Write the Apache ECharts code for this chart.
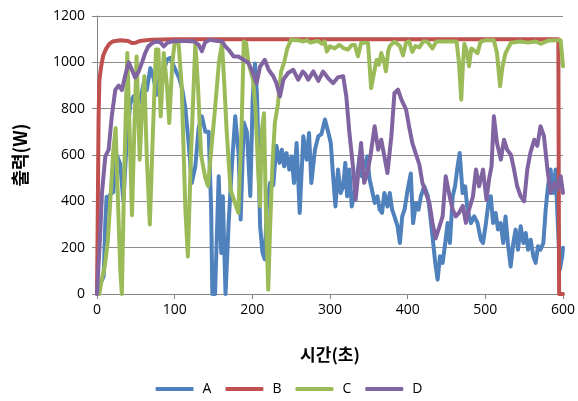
<!DOCTYPE html>
<html>
<head>
<meta charset="utf-8">
<script src="https://cdn.jsdelivr.net/npm/echarts@6/dist/echarts.min.js"></script>
<style>
  html, body { margin: 0; padding: 0; background: #fff; }
  #map { width: 578px; height: 401px; }
</style>
</head>
<body>
<div id="map"></div>
<script>
// 시간(초)와 출력(W)
let tA = [2, 5, 8.6, 10.7, 12.4, 14, 17, 21, 23, 26, 30, 34, 38.6, 43, 47, 51, 56, 60, 64, 68.7, 73, 77, 81.5, 86, 90, 94, 98, 102, 106, 110, 113.8, 118, 122, 126.6, 131, 135, 139.5, 143.8, 147, 148.5, 152, 156.7, 160, 162, 165.5, 169.5, 173.8, 178, 182.4, 185, 189, 193, 197.4, 200.4, 203.4, 206, 210, 213, 216, 219, 223, 227, 231, 235, 238, 241, 244, 247.6, 250.6, 253.6, 257, 261, 265.6, 270, 273, 276, 280.6, 285, 289, 293.5, 298, 301, 304, 307, 310.3, 313.7, 317, 319.7, 322, 325, 328, 331.7, 335, 338, 341, 344.6, 348, 351, 354, 357.5, 361, 364, 367, 370, 374, 377, 380, 383, 387, 390, 393, 396, 400, 404, 407, 410.7, 414, 417, 421.4, 426, 428.7, 432, 435.5, 438.6, 441.6, 445, 448.4, 451.4, 454.4, 458, 461, 464.3, 467, 470.7, 474, 477, 481.5, 485.7, 490, 494.3, 497, 500.8, 504, 507, 510, 513.3, 516.3, 519.8, 523, 526, 529, 532.6, 536, 539, 542, 545.5, 549, 552, 555, 558.4, 561.8, 564.8, 567.8, 571, 574.7, 577.7, 580.7, 584, 587.5, 590.5, 593.5, 596, 599, 600];
let vA = [20, 50, 76, 306, 420, 400, 430, 440, 522, 595, 560, 400, 680, 824, 853, 810, 839, 910, 880, 975, 930, 860, 960, 960, 1012, 1019, 990, 960, 930, 880, 800, 652, 479, 551, 720, 767, 700, 700, 364, 0, 0, 508, 177, 422, 0, 306, 560, 767, 600, 322, 740, 700, 423, 839, 995, 860, 294, 180, 150, 400, 480, 470, 640, 566, 623, 551, 608, 537, 594, 479, 652, 350, 681, 580, 695, 479, 623, 681, 690, 753, 695, 652, 508, 378, 537, 436, 465, 566, 422, 537, 378, 436, 508, 594, 508, 551, 594, 494, 450, 393, 422, 364, 350, 436, 378, 436, 364, 335, 292, 220, 335, 364, 450, 520, 306, 393, 364, 422, 465, 422, 350, 249, 134, 62, 163, 134, 220, 306, 220, 422, 465, 551, 609, 436, 465, 364, 306, 335, 306, 234, 220, 306, 393, 422, 306, 350, 278, 306, 220, 335, 220, 119, 220, 278, 191, 292, 220, 263, 191, 234, 163, 134, 206, 191, 220, 364, 465, 537, 436, 537, 292, 105, 163, 200];

let tB = [0, 1, 2, 3, 5, 8, 12, 16, 20, 30, 40, 45, 50, 55, 70, 100, 150, 200, 300, 400, 500, 594, 595, 600];
let vB = [0, 350, 750, 920, 975, 1030, 1060, 1080, 1090, 1095, 1092, 1083, 1085, 1092, 1098, 1100, 1100, 1100, 1100, 1100, 1100, 1100, 0, 0];

let tC = [3, 6, 10, 14, 18, 21, 24, 27, 30, 32, 35, 39, 42, 45, 48, 51, 55, 58, 61, 64, 68, 72, 76, 79, 82, 86, 90, 93, 97, 100, 105, 109, 113.8, 117, 121, 126.6, 130, 134, 139.5, 143, 147, 152, 157, 161, 164, 167, 172, 177, 182, 186, 189, 192, 195, 198, 201, 204, 208, 210, 212, 215, 218, 220.5, 223, 226, 229, 233, 237, 241, 245, 250, 255, 260, 265, 270, 275, 280, 285, 290, 293, 296, 300, 306, 312, 318, 323, 328, 332, 336, 340, 345, 349, 353, 357, 360, 363, 366, 370, 372, 375, 377, 383, 390, 394, 398, 402, 406, 410, 415, 420, 425, 432, 437, 445, 455, 463, 466, 469, 471, 473, 476, 479, 482, 486, 490, 494, 500, 511, 515, 519, 522, 526, 533, 545, 555, 565, 571, 580, 590, 597, 600];
let vC = [0, 60, 120, 230, 450, 620, 716, 400, 100, 0, 500, 1040, 700, 340, 700, 1025, 580, 800, 940, 600, 300, 700, 1055, 1055, 767, 1040, 900, 738, 1000, 1083, 1083, 900, 364, 162, 600, 1083, 900, 600, 500, 466, 620, 800, 1000, 1083, 900, 700, 450, 400, 350, 700, 1090, 1083, 997, 960, 925, 800, 500, 380, 700, 780, 280, 19, 300, 566, 738, 820, 960, 1000, 1060, 1098, 1095, 1095, 1090, 1095, 1085, 1090, 1092, 1080, 1090, 1047, 1069, 1060, 1075, 1060, 1055, 1075, 1075, 1026, 1083, 1085, 1083, 889, 960, 1010, 990, 1040, 1000, 961, 1050, 1070, 1090, 1070, 1030, 1085, 1090, 1045, 1070, 1065, 1090, 1090, 1060, 1090, 1090, 1090, 1090, 1000, 839, 980, 1080, 1050, 983, 1060, 1050, 1040, 1090, 1095, 1095, 1040, 897, 980, 1040, 1085, 1090, 1085, 1090, 1080, 1093, 1095, 1095, 983];

let tD = [0, 2, 4, 6.4, 10.7, 15, 19, 23.6, 28, 32, 36.5, 40.8, 45, 49, 53.6, 58, 62, 66, 71, 77, 82, 86, 91, 96, 105, 115, 125, 131, 135, 139, 145, 155, 161, 165, 169.5, 176, 182, 189, 195, 199, 201, 205.5, 210, 216, 221, 227, 231, 235.6, 240, 246, 252.7, 259, 265, 268, 272, 278.5, 285, 291, 298, 304, 310, 317, 321, 325, 330, 333, 336, 340, 344, 348, 352, 357.5, 362, 366, 370, 374, 379, 383, 387.5, 392, 398, 402, 406, 411, 415, 419, 424, 428, 432, 436, 441, 445, 449, 454, 458, 462, 466, 471, 475, 479, 484, 488, 492, 497, 501.5, 505, 508, 511, 515, 520, 524, 528, 533, 537, 541, 545.5, 550, 554, 558, 563, 567, 571, 575.5, 580, 584, 588.4, 593, 597, 600];
let vD = [0, 4, 250, 436, 594, 623, 767, 882, 900, 880, 945, 1000, 968, 935, 960, 1000, 1040, 1069, 1083, 1090, 1085, 1069, 1085, 1090, 1092, 1092, 1090, 1075, 1048, 1085, 1097, 1092, 1090, 1070, 1054, 1025, 1025, 1010, 997, 968, 960, 910, 982, 1011, 968, 940, 910, 853, 925, 954, 968, 925, 960, 950, 925, 961, 920, 960, 930, 910, 935, 940, 853, 695, 537, 407, 508, 652, 480, 522, 594, 724, 623, 666, 594, 522, 681, 868, 882, 839, 796, 720, 652, 600, 560, 480, 430, 393, 307, 240, 292, 335, 508, 422, 364, 335, 350, 380, 307, 364, 420, 537, 465, 537, 407, 500, 551, 767, 652, 580, 666, 623, 600, 537, 465, 422, 400, 537, 609, 666, 640, 724, 681, 537, 436, 479, 450, 508, 436];

let names = ['A', 'B', 'C', 'D'];
let colors = ['#4F81BD', '#C0504D', '#9BBB59', '#8064A2'];
let xTicks = [0, 100, 200, 300, 400, 500, 600];
let yTicks = [0, 200, 400, 600, 800, 1000, 1200];

function pairs(t, v){
    return t.map((x, i) => [x, v[i]]);
}

let myChart = echarts.init(document.getElementById('map'));
let font = '"Open Sans", "Noto Sans", sans-serif';
let kfont = '"Noto Sans CJK KR", sans-serif';
let all = [[tA, vA], [tB, vB], [tC, vC], [tD, vD]];

let option = {
    animation: false,
    color: colors,
    grid: { left: 97, right: 15, top: 16, bottom: 107 },
    legend: {
        bottom: 0,
        left: 'center',
        icon: 'roundRect',
        itemWidth: 38,
        itemHeight: 4,
        itemGap: 14,
        textStyle: { fontFamily: font, fontSize: 14, color: '#000', padding: [0, 0, 0, 4] },
        data: names
    },
    xAxis: {
        type: 'value',
        min: xTicks[0],
        max: xTicks[xTicks.length - 1],
        interval: 100,
        name: '시간(초)',
        nameLocation: 'middle',
        nameGap: 52,
        nameTextStyle: { fontFamily: kfont, fontSize: 17, fontWeight: 'bold', color: '#000' },
        axisLine: { lineStyle: { color: '#868686', width: 1 } },
        axisTick: { show: true, length: 5, lineStyle: { color: '#868686' } },
        axisLabel: { fontFamily: font, fontSize: 14, color: '#000', margin: 9 },
        splitLine: { show: false }
    },
    yAxis: {
        type: 'value',
        min: yTicks[0],
        max: yTicks[yTicks.length - 1],
        interval: 200,
        name: '출력(W)',
        nameLocation: 'middle',
        nameGap: 68,
        nameTextStyle: { fontFamily: kfont, fontSize: 18, fontWeight: 'bold', color: '#000' },
        axisLine: { show: true, lineStyle: { color: '#868686', width: 1 } },
        axisTick: { show: true, length: 5, lineStyle: { color: '#868686' } },
        axisLabel: { fontFamily: font, fontSize: 14, color: '#000', margin: 12, formatter: v => String(v) },
        splitLine: { show: true, lineStyle: { color: '#8c8c8c', width: 1 } }
    },
    series: names.map((n, i) => ({
        name: n,
        type: 'line',
        showSymbol: false,
        smooth: false,
        lineStyle: { width: 4, color: colors[i], cap: 'round', join: 'round' },
        data: pairs(all[i][0], all[i][1])
    }))
};
myChart.setOption(option);
</script>
</body>
</html>
